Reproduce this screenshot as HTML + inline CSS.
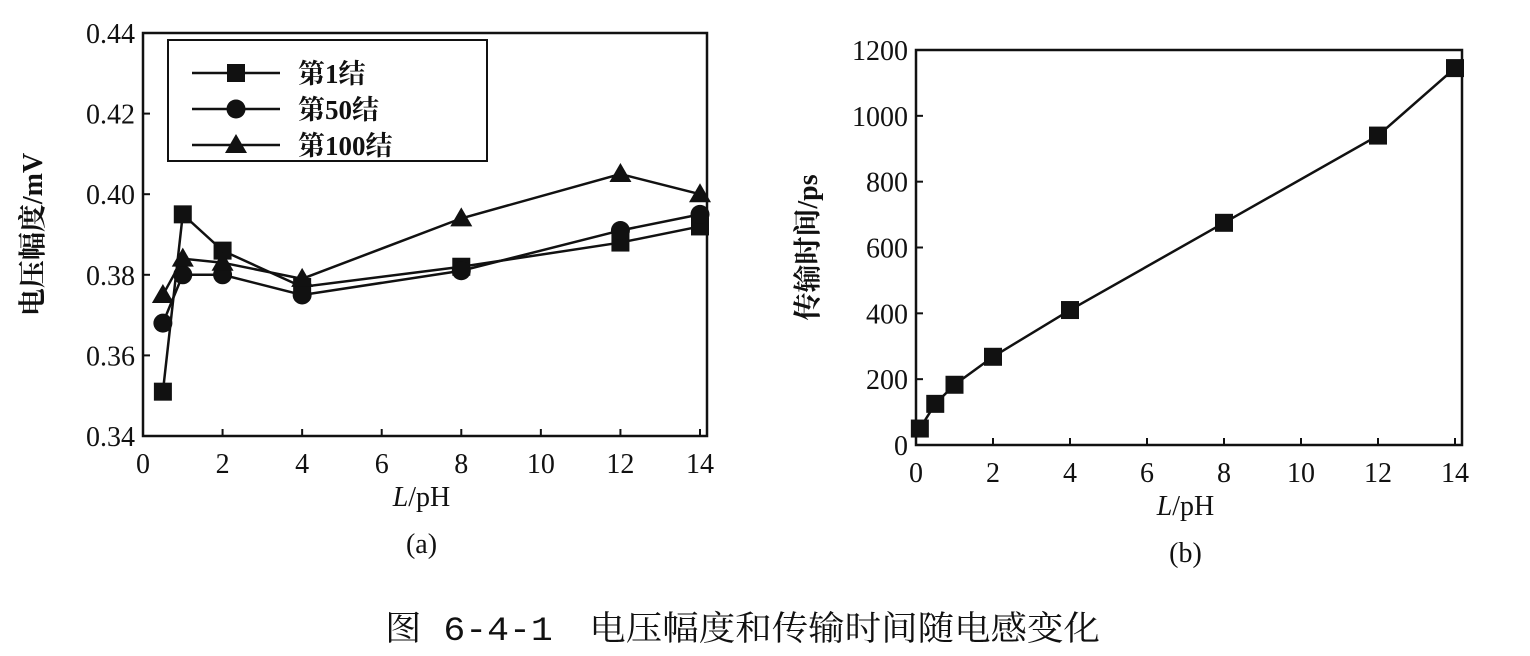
<!DOCTYPE html>
<html><head><meta charset="utf-8"><style>
body{margin:0;background:#fff;width:1530px;height:651px;overflow:hidden}
svg text{font-family:"Liberation Serif","Noto Serif CJK SC",serif;fill:#111}
</style></head><body>
<svg id="s" width="1530" height="651">
<text x="385" y="640" font-size="34" textLength="715" lengthAdjust="spacingAndGlyphs" style="font-family:'Liberation Mono','Noto Serif CJK SC',serif">图 6-4-1　电压幅度和传输时间随电感变化</text>
</svg>
<script>
const xTicks=[0,2,4,6,8,10,12,14];
const aX=[0.5,1,2,4,8,12,14];
const aS1=[0.351,0.395,0.386,0.377,0.382,0.388,0.392];
const aS50=[0.368,0.380,0.380,0.375,0.381,0.391,0.395];
const aS100=[0.375,0.384,0.383,0.379,0.394,0.405,0.400];
const aYTicks=[0.34,0.36,0.38,0.40,0.42,0.44];
const seriesNames=["第1结","第50结","第100结"];
const bX=[0.1,0.5,1,2,4,8,12,14];
const bY=[50,125,183,268,410,675,940,1145];
const bYTicks=[0,200,400,600,800,1000,1200];
const S=document.getElementById('s'),NS='http://www.w3.org/2000/svg';
function mk(t,a,p){const e=document.createElementNS(NS,t);for(const k in a)e.setAttribute(k,a[k]);(p||S).appendChild(e);return e;}
function chart(o){
 const g=mk('g',{});
 
 
 const sx=v=>o.x0+(v-0)/(14)*(o.x1-o.x0);
 const sy=v=>o.y0+(v-o.ymin)/(o.ymax-o.ymin)*(o.y1-o.y0);
 const box=mk('rect',{x:o.x0,y:o.y1,width:o.bx-o.x0,height:o.y0-o.y1,fill:'none',stroke:'#111','stroke-width':2.5},g);
 
 
 xTicks.forEach(t=>{const x=sx(t);mk('line',{x1:x,x2:x,y1:o.y0,y2:o.y0-7,stroke:'#111','stroke-width':2},g);
  const tx=mk('text',{x:x,y:o.y0+37,'font-size':28,'text-anchor':'middle'},g);tx.textContent=t;
  
  });
 o.yt.forEach(t=>{const y=sy(t);mk('line',{x1:o.x0,x2:o.x0+7,y1:y,y2:y,stroke:'#111','stroke-width':2},g);
  const tx=mk('text',{x:o.x0-8,y:y+10,'font-size':28,'text-anchor':'end'},g);tx.textContent=o.fmt(t);
  
  });
 const xl=mk('text',{x:(o.x0+o.x1)/2,y:o.y0+70,'font-size':28,'text-anchor':'middle'},g);
 xl.innerHTML='<tspan font-style="italic">L</tspan>/pH';
 
 
 const yl=mk('text',{x:0,y:0,'font-size':28,'text-anchor':'middle','font-weight':'bold',transform:`translate(${o.ylx},${(o.y0+o.y1)/2}) rotate(-90)`},g);
 yl.textContent=o.ylab;
 
 
 const pl=mk('text',{x:(o.x0+o.x1)/2,y:o.y0+117,'font-size':28,'text-anchor':'middle'},g);pl.textContent=o.panel;
 
 
 return {g,sx,sy};
}
function marker(g,type,x,y){
 let e;
 if(type==='sq')e=mk('rect',{x:x-9,y:y-9,width:18,height:18,fill:'#111'},g);
 else if(type==='ci')e=mk('circle',{cx:x,cy:y,r:9.5,fill:'#111'},g);
 else e=mk('polygon',{points:`${x},${y-11} ${x+11},${y+8} ${x-11},${y+8}`,fill:'#111'},g);
 return e;
}
const A=chart({name:'chart-a',x0:143,x1:700,bx:707,y0:436,y1:33,ymin:0.34,ymax:0.44,yt:aYTicks,fmt:v=>v.toFixed(2),ylab:'电压幅度/mV',ylx:42,panel:'(a)'});
[[aS1,'sq'],[aS50,'ci'],[aS100,'tr']].forEach(([ys,m],i)=>{
 const p=mk('polyline',{points:aX.map((x,j)=>A.sx(x)+','+A.sy(ys[j])).join(' '),fill:'none',stroke:'#111','stroke-width':2.5},A.g);
 
 
 aX.forEach((x,j)=>{const e=marker(A.g,m,A.sx(x),A.sy(ys[j]));
  
  });
});
const lg=mk('g',{});


mk('rect',{x:168,y:40,width:319,height:121,fill:'#fff',stroke:'#111','stroke-width':2},lg);
['sq','ci','tr'].forEach((m,i)=>{const y=73+i*36;
 mk('line',{x1:192,x2:280,y1:y,y2:y,stroke:'#111','stroke-width':2.5},lg);marker(lg,m,236,y);
 const t=mk('text',{x:298,y:y+10,'font-size':27,'font-weight':'bold'},lg);t.textContent=seriesNames[i];
 
 });
const B=chart({name:'chart-b',x0:916,x1:1455,bx:1462,y0:445,y1:50,ymin:0,ymax:1200,yt:bYTicks,fmt:v=>v,ylab:'传输时间/ps',ylx:817,panel:'(b)'});
const pb=mk('polyline',{points:bX.map((x,j)=>B.sx(x)+','+B.sy(bY[j])).join(' '),fill:'none',stroke:'#111','stroke-width':2.5},B.g);


bX.forEach((x,j)=>{const e=marker(B.g,'sq',B.sx(x),B.sy(bY[j]));
 
 });
</script>
</body></html>
